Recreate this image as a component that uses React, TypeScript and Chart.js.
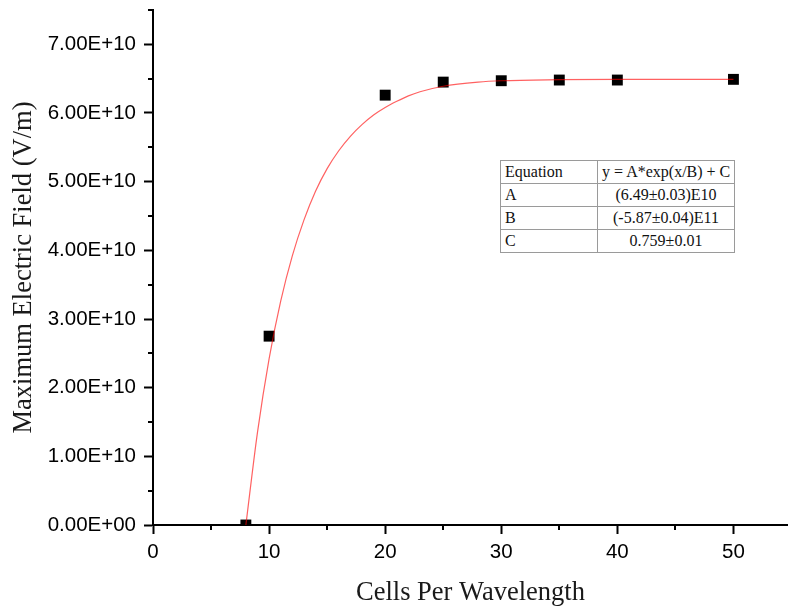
import React, { useEffect, useRef } from 'react';
import { Chart, registerables } from 'chart.js';

Chart.register(...registerables);

// Measured data points (Cells Per Wavelength vs Maximum Electric Field)
const pointX = [8, 10, 20, 25, 30, 35, 40, 50];
const pointY = [0, 2.75e10, 6.26e10, 6.45e10, 6.47e10, 6.48e10, 6.48e10, 6.49e10];

// Fit curve
const fitX = [8, 9, 10, 11, 12, 13, 14, 15, 16, 17, 18, 19, 20, 21, 22, 23, 25, 28, 30, 35, 40, 50];
const fitY = [
  0, 1.35e10, 2.42e10, 3.26e10, 3.92e10, 4.44e10, 4.86e10, 5.19e10, 5.45e10, 5.66e10, 5.83e10,
  5.97e10, 6.08e10, 6.17e10, 6.25e10, 6.31e10, 6.39e10, 6.45e10, 6.47e10, 6.485e10, 6.49e10, 6.49e10,
];

// Ticks
const xTicks = [0, 10, 20, 30, 40, 50];
const xMinor = [5, 15, 25, 35, 45, 55];
const yTicks = [0, 1e10, 2e10, 3e10, 4e10, 5e10, 6e10, 7e10];
const yMinor = [0.5e10, 1.5e10, 2.5e10, 3.5e10, 4.5e10, 5.5e10, 6.5e10, 7.5e10];

// Fit table
const tableNames = ['Equation', 'A', 'B', 'C'];
const tableValues = ['y = A*exp(x/B) + C', '(6.49±0.03)E10', '(-5.87±0.04)E11', '0.759±0.01'];

const xTitle = 'Cells Per Wavelength';
const yTitle = 'Maximum Electric Field (V/m)';

const fmtSci = (v: number) => {
  const [m, e] = v.toExponential(2).split('e');
  const n = parseInt(e, 10);
  return m + 'E' + (n < 0 ? '-' : '+') + String(Math.abs(n)).padStart(2, '0');
};

const SANS = "'Liberation Sans', Arial, sans-serif";
const SERIF = "'Liberation Serif', 'Times New Roman', serif";

const minorTicksPlugin = {
  id: 'minorTicks',
  afterDraw(chart: any) {
    const { ctx, chartArea } = chart;
    const x = chart.scales.x;
    const y = chart.scales.y;
    ctx.save();
    ctx.strokeStyle = '#000';
    ctx.lineWidth = 2;
    xMinor.forEach((v) => {
      const px = Math.round(x.getPixelForValue(v));
      if (px > chartArea.right + 1) return;
      ctx.beginPath();
      ctx.moveTo(px, chartArea.bottom);
      ctx.lineTo(px, chartArea.bottom + 5);
      ctx.stroke();
    });
    yMinor.forEach((v) => {
      const py = Math.round(y.getPixelForValue(v));
      ctx.beginPath();
      ctx.moveTo(chartArea.left, py);
      ctx.lineTo(chartArea.left - 5, py);
      ctx.stroke();
    });
    ctx.restore();
  },
};

export default function App() {
  const ref = useRef<HTMLCanvasElement | null>(null);

  useEffect(() => {
    if (!ref.current) return;
    const chart = new Chart(ref.current, {
      type: 'line',
      data: {
        datasets: [
          {
            type: 'line',
            label: 'fit',
            data: fitX.map((x, i) => ({ x, y: fitY[i] })),
            borderColor: 'rgba(255,0,0,0.62)',
            borderWidth: 1.2,
            pointRadius: 0,
            cubicInterpolationMode: 'monotone',
            fill: false,
            order: 0,
          },
          {
            type: 'scatter',
            label: 'data',
            data: pointX.map((x, i) => ({ x, y: pointY[i] })),
            pointStyle: 'rect',
            pointRadius: 7.7,
            backgroundColor: '#000',
            borderColor: '#000',
            borderWidth: 0,
            showLine: false,
            clip: 0,
            order: 1,
          },
        ],
      } as any,
      options: {
        animation: false,
        responsive: false,
        devicePixelRatio: 1,
        layout: { autoPadding: false, padding: { top: 10, left: 0, right: 0, bottom: 0 } },
        plugins: { legend: { display: false }, tooltip: { enabled: false } },
        scales: {
          x: {
            type: 'linear',
            min: 0,
            max: 54.7,
            afterBuildTicks: (s: any) => {
              s.ticks = xTicks.map((v) => ({ value: v }));
            },
            afterFit: (s: any) => {
              s.height = 82;
              s.paddingLeft = 0;
              s.paddingRight = 0;
            },
            ticks: {
              font: { family: SANS, size: 20.5 },
              color: '#000',
              padding: 6,
              maxRotation: 0,
              autoSkip: false,
              callback: (v: any) => String(v),
            },
            grid: {
              display: true,
              drawOnChartArea: false,
              drawTicks: true,
              tickLength: 9,
              tickWidth: 2,
              tickColor: '#000',
            },
            border: { display: true, color: '#000', width: 2 },
            title: {
              display: true,
              text: xTitle,
              font: { family: SERIF, size: 26.5 },
              color: '#1a1a1a',
              padding: { top: 0, bottom: -2 },
            },
          },
          y: {
            type: 'linear',
            min: 0,
            max: 7.5e10,
            afterBuildTicks: (s: any) => {
              s.ticks = yTicks.map((v) => ({ value: v }));
            },
            afterFit: (s: any) => {
              s.width = 153;
              s.paddingTop = 0;
              s.paddingBottom = 0;
            },
            ticks: {
              font: { family: SANS, size: 20.5 },
              color: '#000',
              padding: 8,
              autoSkip: false,
              callback: (v: any) => fmtSci(Number(v)),
            },
            grid: {
              display: true,
              drawOnChartArea: false,
              drawTicks: true,
              tickLength: 9,
              tickWidth: 2,
              tickColor: '#000',
            },
            border: { display: true, color: '#000', width: 2 },
            title: {
              display: true,
              text: yTitle,
              font: { family: SERIF, size: 26.5 },
              color: '#1a1a1a',
              padding: { top: 8, bottom: 0 },
            },
          },
        },
      } as any,
      plugins: [minorTicksPlugin],
    });
    return () => chart.destroy();
  }, []);

  const cellBase: React.CSSProperties = {
    border: '1px solid #9a9a9a',
    height: 22,
    padding: '0 4px',
    fontFamily: SERIF,
    fontSize: 16,
    color: '#111',
    lineHeight: '20px',
    whiteSpace: 'nowrap',
  };

  return (
    <div style={{ position: 'fixed', left: 0, top: 0, width: 788, height: 607, background: '#fff' }}>
      <canvas ref={ref} width={788} height={607} style={{ display: 'block' }} />
      <table
        style={{
          position: 'absolute',
          left: 500,
          top: 160,
          width: 234,
          borderCollapse: 'collapse',
          background: '#fff',
          tableLayout: 'fixed',
        }}
      >
        <colgroup>
          <col style={{ width: 97 }} />
          <col style={{ width: 137 }} />
        </colgroup>
        <tbody>
          {tableNames.map((n, i) => (
            <tr key={n}>
              <td style={{ ...cellBase, textAlign: 'left' }}>{n}</td>
              <td style={{ ...cellBase, textAlign: 'center' }}>{tableValues[i]}</td>
            </tr>
          ))}
        </tbody>
      </table>
    </div>
  );
}
